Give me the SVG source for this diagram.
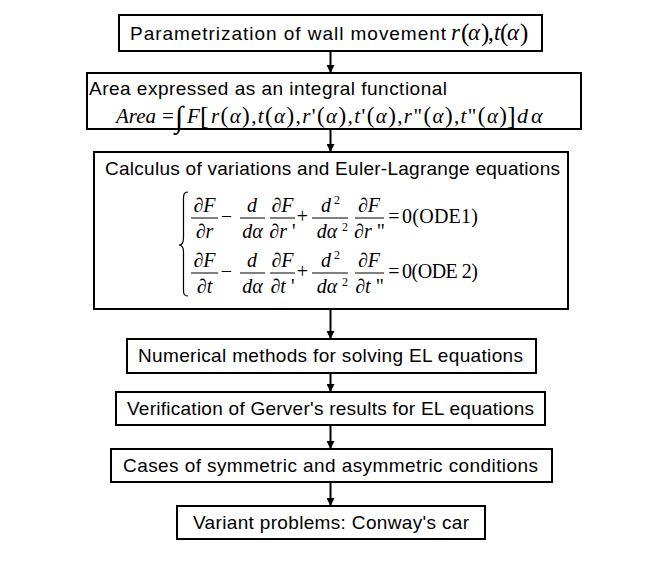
<svg xmlns="http://www.w3.org/2000/svg" width="654" height="572" viewBox="0 0 654 572">
<defs>
<style>
.box{fill:#fff;stroke:#000;stroke-width:2}
.t{font-family:"Liberation Sans",Arial,sans-serif;font-size:19px;fill:#000}
.m{font-family:"Liberation Serif","Times New Roman",serif;fill:#000}
.i{font-style:italic}
.eq{font-family:"Liberation Serif","Times New Roman",serif;font-size:20px;fill:#000}
.bar{stroke:#000;stroke-width:1}
.conn{stroke:#000;stroke-width:2;fill:none}
</style>
<marker id="ah" markerUnits="userSpaceOnUse" markerWidth="8" markerHeight="8" viewBox="0 0 8 8" refX="8" refY="4" orient="auto">
<path d="M0,0 L8,4 L0,8 Z" fill="#000"/>
</marker>
</defs>
<rect width="654" height="572" fill="#fff"/>

<g id="connectors">
<line class="conn" x1="330.5" y1="51" x2="330.5" y2="73" marker-end="url(#ah)"/>
<line class="conn" x1="330.5" y1="129" x2="330.5" y2="152" marker-end="url(#ah)"/>
<line class="conn" x1="330.5" y1="309" x2="330.5" y2="339" marker-end="url(#ah)"/>
<line class="conn" x1="330.5" y1="373" x2="330.5" y2="392" marker-end="url(#ah)"/>
<line class="conn" x1="330.5" y1="425" x2="330.5" y2="449" marker-end="url(#ah)"/>
<line class="conn" x1="330.5" y1="482" x2="330.5" y2="506" marker-end="url(#ah)"/>
</g>

<g id="n1">
<rect class="box" x="119" y="15" width="423" height="36"/>
<text class="t" x="130" y="40" textLength="316" lengthAdjust="spacing">Parametrization of wall movement</text>
<text class="m i" font-size="23" x="451" y="40">r</text>
<text class="m" font-size="25" x="461" y="41">(</text>
<text class="m i" font-size="23" x="468" y="40">α</text>
<text class="m" font-size="25" x="481" y="41">)</text>
<text class="m" font-size="23" x="488" y="40">,</text>
<text class="m i" font-size="23" x="494" y="40">t</text>
<text class="m" font-size="25" x="500" y="41">(</text>
<text class="m i" font-size="23" x="507" y="40">α</text>
<text class="m" font-size="25" x="520" y="41">)</text>
</g>

<g id="n2">
<rect class="box" x="87" y="73" width="494" height="56"/>
<text class="t" x="89" y="95" textLength="358" lengthAdjust="spacing">Area expressed as an integral functional</text>
<text class="m i" font-size="21" x="116" y="123">Area</text>
<text class="m" font-size="21" x="162" y="123">=</text>
<text class="m" font-size="30" x="175" y="127">∫</text>
<text class="m i" font-size="21" x="187" y="123">F</text>
<text class="m" font-size="26" x="200" y="124">[</text>
<text class="m" font-size="21" x="211" y="123" textLength="296" lengthAdjust="spacing"><tspan class="i">r</tspan><tspan font-size="23">(</tspan><tspan class="i">α</tspan><tspan font-size="23">)</tspan>,<tspan class="i">t</tspan><tspan font-size="23">(</tspan><tspan class="i">α</tspan><tspan font-size="23">)</tspan>,<tspan class="i">r</tspan>'<tspan font-size="23">(</tspan><tspan class="i">α</tspan><tspan font-size="23">)</tspan>,<tspan class="i">t</tspan>'<tspan font-size="23">(</tspan><tspan class="i">α</tspan><tspan font-size="23">)</tspan>,<tspan class="i">r</tspan>"<tspan font-size="23">(</tspan><tspan class="i">α</tspan><tspan font-size="23">)</tspan>,<tspan class="i">t</tspan>"<tspan font-size="23">(</tspan><tspan class="i">α</tspan><tspan font-size="23">)</tspan></text>
<text class="m" font-size="26" x="507" y="124">]</text>
<text class="m i" font-size="22" x="517" y="123">d</text>
<text class="m i" font-size="22" x="531" y="123">α</text>
</g>

<g id="n3">
<rect class="box" x="94" y="152" width="474" height="157"/>
<text class="t" x="105" y="175" textLength="455" lengthAdjust="spacing">Calculus of variations and Euler-Lagrange equations</text>
<path d="M188,192 C183,192 183.5,196 183.5,201 L183.5,238 C183.5,243 182,245 179,245 C182,245 183.5,247 183.5,252 L183.5,287 C183.5,293 183,296 188,296" fill="none" stroke="#000" stroke-width="1.2"/>
<g class="eq" text-anchor="middle">
<text x="204.5" y="212">∂<tspan class="i">F</tspan></text>
<line class="bar" x1="191" y1="218" x2="218" y2="218"/>
<text x="204.5" y="238">∂<tspan class="i">r</tspan></text>
<text x="226.5" y="223">−</text>
<text x="252" y="212" class="i">d</text>
<line class="bar" x1="240" y1="218" x2="265" y2="218"/>
<text x="252.5" y="238" class="i">dα</text>
<text x="282.5" y="212">∂<tspan class="i">F</tspan></text>
<line class="bar" x1="270" y1="218" x2="295" y2="218"/>
<text x="282.5" y="238">∂<tspan class="i">r</tspan> '</text>
<text x="302.5" y="223">+</text>
<text x="326" y="212" class="i">d</text>
<text x="337" y="204" font-size="12">2</text>
<line class="bar" x1="312" y1="218" x2="348" y2="218"/>
<text x="327" y="238" class="i">dα</text>
<text x="345" y="231" font-size="12">2</text>
<text x="369" y="212">∂<tspan class="i">F</tspan></text>
<line class="bar" x1="355" y1="218" x2="384" y2="218"/>
<text x="369.5" y="238">∂<tspan class="i">r</tspan> "</text>
<text x="394" y="223">=</text>
<text x="440" y="223" textLength="76" lengthAdjust="spacing">0(ODE1)</text>
<text x="204.5" y="267">∂<tspan class="i">F</tspan></text>
<line class="bar" x1="191" y1="273" x2="218" y2="273"/>
<text x="204.5" y="293">∂<tspan class="i">t</tspan></text>
<text x="226.5" y="278">−</text>
<text x="252" y="267" class="i">d</text>
<line class="bar" x1="240" y1="273" x2="265" y2="273"/>
<text x="252.5" y="293" class="i">dα</text>
<text x="282.5" y="267">∂<tspan class="i">F</tspan></text>
<line class="bar" x1="270" y1="273" x2="295" y2="273"/>
<text x="282.5" y="293">∂<tspan class="i">t</tspan> '</text>
<text x="302.5" y="278">+</text>
<text x="326" y="267" class="i">d</text>
<text x="337" y="259" font-size="12">2</text>
<line class="bar" x1="312" y1="273" x2="348" y2="273"/>
<text x="327" y="293" class="i">dα</text>
<text x="345" y="286" font-size="12">2</text>
<text x="369" y="267">∂<tspan class="i">F</tspan></text>
<line class="bar" x1="355" y1="273" x2="384" y2="273"/>
<text x="369.5" y="293">∂<tspan class="i">t</tspan> "</text>
<text x="394" y="278">=</text>
<text x="440" y="278" textLength="76" lengthAdjust="spacing">0(ODE 2)</text>
</g>
</g>

<g id="n4">
<rect class="box" x="127" y="339" width="409" height="34"/>
<text class="t" x="138" y="362" textLength="385" lengthAdjust="spacing">Numerical methods for solving EL equations</text>
</g>

<g id="n5">
<rect class="box" x="116" y="392" width="429" height="33"/>
<text class="t" x="127" y="415" textLength="407" lengthAdjust="spacing">Verification of Gerver's results for EL equations</text>
</g>

<g id="n6">
<rect class="box" x="111" y="449" width="441" height="33"/>
<text class="t" x="123" y="472" textLength="415" lengthAdjust="spacing">Cases of symmetric and asymmetric conditions</text>
</g>

<g id="n7">
<rect class="box" x="177" y="506" width="308" height="33"/>
<text class="t" x="193" y="529" textLength="276" lengthAdjust="spacing">Variant problems: Conway's car</text>
</g>
</svg>
